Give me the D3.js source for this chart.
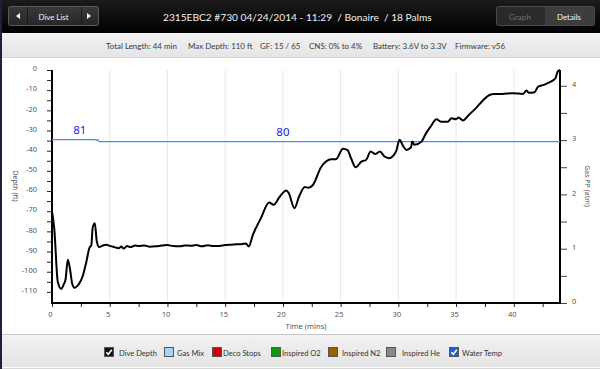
<!DOCTYPE html>
<html><head><meta charset="utf-8">
<script src="https://cdn.jsdelivr.net/npm/d3@7"></script>
<style>
html,body{margin:0;padding:0;background:#fff;overflow:hidden}
svg{display:block;font-family:Lato,"Noto Sans",sans-serif}
</style></head>
<body>
<svg id="c" width="600" height="369"></svg>
<script>
// ---- data ----
const timeMin = [0,0.2,0.5,0.8,1.0,1.17,1.37,1.57,1.75,1.95,2.2,2.4,2.67,2.96,3.25,3.4,3.53,3.71,3.88,4.1,4.4,4.7,5.0,5.4,5.8,6.0,6.2,6.5,6.8,7.2,7.5,8,8.5,9,9.5,10,10.5,11,11.5,12,12.5,13,13.5,14,14.5,15,15.5,16,16.5,16.8,17.04,17.4,18.1,18.8,19.2,19.7,20.3,20.5,21,21.4,21.9,22.2,22.6,23.3,24.2,24.6,25.2,25.6,25.9,26.3,26.8,27.2,27.6,28,28.4,28.8,29.2,29.8,30.1,30.4,30.7,31.1,31.2,31.4,32,32.4,32.8,33.3,33.7,34.3,34.6,35,35.2,35.6,36.1,36.7,37.3,37.9,38.3,39,39.9,40.8,41.1,41.3,41.8,42.1,42.6,43.2,43.6,43.8,44];
const depthFt = [70,79,105,108.5,106.5,104,94,99,106,108,107,105.5,102,95.5,88,87,78,76,85,87.8,87,86.6,87.2,87.8,88.3,87.5,88.5,87.3,87.8,87,87.2,87,87.6,87.4,87,86.8,87.3,87.4,87,87.1,86.8,87.4,86.9,87.3,87.2,86.8,86.6,86.4,86.2,86,87.5,81.7,73.4,65.7,66.8,63,59.7,61,68.5,62.7,58,58.4,57,48.2,44.2,44.2,39,39.7,43.7,48.2,45.4,44.6,40.4,41.7,40.4,42.9,43.7,40.4,34.6,37.6,39.6,38.3,35.5,37.1,35.5,31.3,28,24.4,25.6,25.6,23.9,24.4,23.6,25,22.3,19,15.2,12.4,11.9,11.9,11.5,11.9,10.2,11.3,11,8.3,7.4,5.8,4.1,0.8,0];
const tempTime = [0,3.7,3.85,3.95,4.1,44];
const tempF = [81,81,80.7,81,80,80];
const tempLabels = [{t:2.4,v:81},{t:20,v:80}];
const xTicks = [0,5,10,15,20,25,30,35,40];
const depthTicks = [0,10,20,30,40,50,60,70,80,90,100,110];
const ppTicks = [0,1,2,3,4];
const title = "2315EBC2 #730 04/24/2014 - 11:29  / Bonaire  / 18 Palms";
const stats = ["Total Length: 44 min","Max Depth: 110 ft","GF: 15 / 65","CNS: 0% to 4%","Battery: 3.6V to 3.3V","Firmware: v56"];
const legendNames = ["Dive Depth","Gas Mix","Deco Stops","Inspired O2","Inspired N2","Inspired He","Water Temp"];
const legendColors = ["#111","#a9d3f5","#d40000","#0a9a0a","#9a6000","#8a8a8a","#1f5fc8"];
const legendChecked = [true,false,false,false,false,false,true];

// ---- layout ----
const svg = d3.select("#c");
const W=600,H=369;
const L=52,R=560,T=70,B=303;
const x = d3.scaleLinear().domain([0,44]).range([L,R]);
const y = d3.scaleLinear().domain([0,115.5]).range([T,B]);
const yT = d3.scaleLinear().domain([0,115.5]).range([B,T]);
const yPP = d3.scaleLinear().domain([0,4.29]).range([B,T]);

// scale font size so that a text spans the requested width; returns new size
function fit(sel, width){
  let out=null;
  sel.each(function(){
    const n=this, fs=parseFloat(n.getAttribute("font-size"));
    const w=n.getComputedTextLength();
    if(w>0){ out=fs*width/w; n.setAttribute("font-size",out.toFixed(2)); }
  });
  return out;
}

const defs = svg.append("defs");
const g1 = defs.append("linearGradient").attr("id","hdr").attr("x1",0).attr("y1",0).attr("x2",0).attr("y2",1);
g1.append("stop").attr("offset","0").attr("stop-color","#1c1c1c");
g1.append("stop").attr("offset","1").attr("stop-color","#000");
const g2 = defs.append("linearGradient").attr("id","bar").attr("x1",0).attr("y1",0).attr("x2",0).attr("y2",1);
g2.append("stop").attr("offset","0").attr("stop-color","#f2f2f2");
g2.append("stop").attr("offset","1").attr("stop-color","#e4e4e4");
const g3 = defs.append("linearGradient").attr("id","btn").attr("x1",0).attr("y1",0).attr("x2",0).attr("y2",1);
g3.append("stop").attr("offset","0").attr("stop-color","#3a3a3a");
g3.append("stop").attr("offset","1").attr("stop-color","#262626");

svg.append("rect").attr("width",W).attr("height",H).attr("fill","#fff");
// header
svg.append("rect").attr("x",0).attr("y",0).attr("width",W).attr("height",33).attr("fill","url(#hdr)");
fit(svg.append("text").attr("x",163).attr("y",20.5).attr("fill","#f0f0f0").style("white-space","pre")
  .attr("font-size",12).text(title),269);
// left button group
svg.append("rect").attr("x",8.5).attr("y",6.5).attr("width",90).attr("height",19).attr("rx",2)
  .attr("fill","url(#btn)").attr("stroke","#5a5a5a");
[27.5,81.5].forEach(v=>svg.append("line").attr("x1",v).attr("x2",v).attr("y1",7).attr("y2",25).attr("stroke","#1a1a1a"));
svg.append("path").attr("d","M20,13 L16,16 L20,19 Z").attr("fill","#fff");
svg.append("path").attr("d","M87,13 L91,16 L87,19 Z").attr("fill","#fff");
fit(svg.append("text").attr("x",38.5).attr("y",19.5).attr("fill","#f4f4f4").attr("font-size",9).text("Dive List"),30);
// right buttons
svg.append("rect").attr("x",496.5).attr("y",6.5).attr("width",98).attr("height",19).attr("rx",2)
  .attr("fill","#2a2a2a").attr("stroke","#4a4a4a");
svg.append("rect").attr("x",545).attr("y",7).attr("width",49).attr("height",18).attr("fill","#3d3d3d");
fit(svg.append("text").attr("x",509).attr("y",19.5).attr("fill","#6e6e6e").attr("font-size",9).text("Graph"),22);
fit(svg.append("text").attr("x",557).attr("y",19.5).attr("fill","#f4f4f4").attr("font-size",9).text("Details"),24);

// stats bar
svg.append("rect").attr("x",0).attr("y",33).attr("width",W).attr("height",25).attr("fill","url(#bar)");
svg.append("line").attr("x1",0).attr("x2",W).attr("y1",57.5).attr("y2",57.5).attr("stroke","#d4d4d4");
const statX = [106,188,260,309,373,455];
const st = svg.append("g").selectAll("text").data(stats).join("text")
  .attr("x",(d,i)=>statX[i]).attr("y",48.5).attr("fill","#3a3a3a").attr("font-size",9).text(d=>d);
const statFs = fit(st.filter((d,i)=>i===0),71);
st.attr("font-size",statFs.toFixed(2));

// grid
svg.append("g").selectAll("line").data(xTicks.filter(d=>d>0)).join("line")
  .attr("x1",d=>x(d)).attr("x2",d=>x(d)).attr("y1",T).attr("y2",B).attr("stroke","#e8e8e8").attr("stroke-width",1);

// axes
const axFont = g=>{g.selectAll("text").attr("fill","#555").attr("font-size",7.5).attr("font-family","'Noto Sans',sans-serif");g.select(".domain").remove();};
// x axis
const xMinor = d3.range(0,44.01,2.5);
svg.append("g").attr("transform",`translate(0,${B})`)
  .call(d3.axisBottom(x).tickValues(xMinor).tickSize(4).tickFormat(d=>xTicks.includes(d)?d:""))
  .call(axFont).call(g=>g.selectAll("line").attr("stroke","#222"))
  .call(g=>g.selectAll("text").attr("dy","0.9em").attr("dx",-2));
svg.append("line").attr("x1",L-1).attr("x2",R+1).attr("y1",B).attr("y2",B).attr("stroke","#000").attr("stroke-width",2);
// left axis
svg.append("g").attr("transform",`translate(${L},0)`)
  .call(d3.axisLeft(y).tickValues(d3.range(0,115,5)).tickSize(5).tickFormat(d=>depthTicks.includes(d)?(d===0?"0":"-"+d):""))
  .call(axFont).call(g=>g.selectAll("line").attr("stroke","#222"))
  .call(g=>g.selectAll("text").attr("x",-15).attr("dy","0.1em"));
svg.append("line").attr("x1",L).attr("x2",L).attr("y1",T).attr("y2",B+1).attr("stroke","#000").attr("stroke-width",2);
// right axis
svg.append("g").attr("transform",`translate(${R},0)`)
  .call(d3.axisRight(yPP).tickValues(d3.range(0,4.01,0.5)).tickSize(7).tickFormat(d=>ppTicks.includes(d)?d:""))
  .call(axFont).call(g=>g.selectAll("line").attr("stroke","#444"))
  .call(g=>g.selectAll("text").attr("x",12).attr("dy","0.1em"));
svg.append("line").attr("x1",R).attr("x2",R).attr("y1",T).attr("y2",B+1).attr("stroke","#000").attr("stroke-width",2);

// axis titles
svg.append("text").attr("transform","translate(13,186) rotate(90)").attr("text-anchor","middle").attr("fill","#555").attr("font-size",7).attr("font-family","'Noto Sans',sans-serif").text("Depth (ft)");
svg.append("text").attr("transform","translate(585,186) rotate(90)").attr("text-anchor","middle").attr("fill","#555").attr("font-size",7).attr("font-family","'Noto Sans',sans-serif").text("Gas PP (atm)");
svg.append("text").attr("x",306).attr("y",329).attr("text-anchor","middle").attr("fill","#555").attr("font-size",7.5).attr("font-family","'Noto Sans',sans-serif").text("Time (mins)");

// temperature line
const tdata = tempTime.map((t,i)=>[t,tempF[i]]);
svg.append("path").datum(tdata).attr("fill","none").attr("stroke","#4d8fd6").attr("stroke-width",1.3)
  .attr("d",d3.line().x(d=>x(d[0])).y(d=>yT(d[1])));
svg.append("g").selectAll("text").data(tempLabels).join("text")
  .attr("x",d=>x(d.t)).attr("y",d=>yT(d.v)-6).attr("text-anchor","middle").attr("fill","#1a22e0").attr("font-size",11.5).attr("font-family","'Noto Sans',sans-serif").text(d=>d.v);

// depth line
const ddata = timeMin.map((t,i)=>[t,depthFt[i]]);
svg.append("path").datum(ddata).attr("fill","none").attr("stroke","#000").attr("stroke-width",2).attr("stroke-linejoin","round")
  .attr("d",d3.line().curve(d3.curveMonotoneX).x(d=>x(d[0])).y(d=>y(d[1])));

// legend bar
svg.append("rect").attr("x",0).attr("y",334).attr("width",W).attr("height",33).attr("fill","url(#bar)");
svg.append("line").attr("x1",0).attr("x2",W).attr("y1",334.5).attr("y2",334.5).attr("stroke","#c8c8c8");
svg.append("line").attr("x1",0).attr("x2",W).attr("y1",367.5).attr("y2",367.5).attr("stroke","#fdfdfd");
svg.append("rect").attr("x",0).attr("y",368).attr("width",W).attr("height",1).attr("fill","#d8d8d8");
const legX = [104,164,212,271,328,386,449];
const legTX = [119,177,223,282,342,402,462];
const lg = svg.append("g").selectAll("g").data(legendNames).join("g");
lg.append("rect").attr("x",(d,i)=>legX[i]+0.5).attr("y",347.5).attr("width",9).attr("height",9)
  .attr("fill",(d,i)=>legendChecked[i]&&i===0?"#111":legendColors[i]).attr("stroke","#555").attr("stroke-width",1);
lg.filter((d,i)=>legendChecked[i]).append("path").attr("d",(d)=>{const i=legendNames.indexOf(d);const a=legX[i];return `M${a+2.3},352.2 L${a+4.3},354.2 L${a+7.8},349.8`;})
  .attr("fill","none").attr("stroke","#fff").attr("stroke-width",1.6);
const lt = lg.append("text").attr("x",(d,i)=>legTX[i]).attr("y",355.5).attr("fill","#333").attr("font-size",9).text(d=>d);
const legFs = fit(lt.filter((d,i)=>i===0),38);
lt.attr("font-size",legFs.toFixed(2));

// left border
svg.append("rect").attr("x",0).attr("y",0).attr("width",2).attr("height",H).attr("fill","#1b2238");
</script>
</body></html>
